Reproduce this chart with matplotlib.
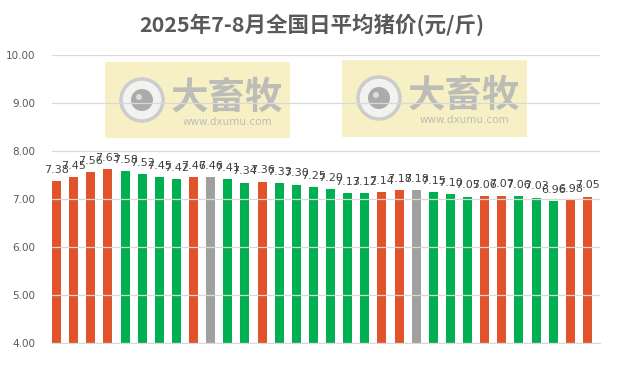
import numpy as np
import matplotlib
matplotlib.use("Agg")
import matplotlib.pyplot as plt
from matplotlib.patches import Circle, Rectangle

plt.rcParams['font.family'] = ['Noto Sans CJK SC', 'DejaVu Sans']

# 2025年7-8月 全国日平均猪价 (元/斤)
prices = [7.38, 7.45, 7.56, 7.63, 7.58, 7.52, 7.45, 7.42, 7.46, 7.46,
          7.41, 7.34, 7.36, 7.33, 7.30, 7.25, 7.20, 7.13, 7.12, 7.14,
          7.18, 7.18, 7.15, 7.10, 7.05, 7.06, 7.07, 7.06, 7.03, 6.96,
          6.98, 7.05]
# 涨=红, 跌=绿, 平=灰
trend = ["up", "up", "up", "up", "down", "down", "down", "down", "up", "flat",
         "down", "down", "up", "down", "down", "down", "down", "down", "down", "up",
         "up", "flat", "down", "down", "down", "up", "up", "down", "down", "down",
         "up", "up"]
title = "2025年7-8月全国日平均猪价(元/斤)"

COLORS = {"up": "#E0532B", "down": "#00B050", "flat": "#A0A0A0"}
W, H = 623, 369

fig = plt.figure(figsize=(W / 100, H / 100), dpi=100)


def px_axes(x0, y0, x1, y1, **kw):
    # 像素坐标(左上原点) -> figure 坐标
    return fig.add_axes([x0 / W, 1 - y1 / H, (x1 - x0) / W, (y1 - y0) / H], **kw)


# ── 水印 ──────────────────────────────────────────────
def watermark(x0, y0, x1, y1):
    wm = px_axes(x0, y0, x1, y1, zorder=-1)
    wm.set_xlim(x0, x1)
    wm.set_ylim(y1, y0)
    wm.set_aspect("auto")
    wm.axis("off")
    wm.add_patch(Rectangle((x0, y0), x1 - x0, y1 - y0, color="#F7F0C4", lw=0))
    cx, cy = x0 + 37, y0 + 38
    wm.add_patch(Circle((cx, cy), 21, facecolor="#F2F2F0", edgecolor="#CCCCCC", lw=2.5))
    wm.add_patch(Circle((cx, cy), 11, color="#ABABAB", lw=0))
    wm.add_patch(Circle((cx - 3, cy - 3), 3, color="#DDDDDD", lw=0))
    wm.text(x0 + 122, y0 + 35, "大畜牧", fontsize=27, fontweight="bold",
            color="#BDBDB8", ha="center", va="center")
    wm.text(x0 + 122, y0 + 60, "www.dxumu.com", fontsize=7.5,
            color="#BDBDB8", ha="center", va="center", family="DejaVu Sans")


watermark(105, 62, 290, 138)
watermark(342, 60, 527, 137)

# ── 主图 ──────────────────────────────────────────────
ax = px_axes(52, 55, 600, 343, zorder=1)
ax.patch.set_alpha(0)

x = np.arange(len(prices))
bw = 0.53
bar_colors = [COLORS[t] for t in trend]
ax.bar(x, np.array(prices) - 4.0, bottom=4.0, width=bw, align="edge",
       color=bar_colors, zorder=2)

for xi, v in zip(x, prices):
    ax.text(xi + bw / 2, v + 0.13, f"{v:.2f}", ha="center", va="bottom",
            fontsize=8, color="#404040", family="DejaVu Sans", zorder=3)

ax.set_xlim(0, len(prices))
ax.set_ylim(4, 10)
ax.set_yticks(np.arange(4, 10.01, 1))
ax.set_yticklabels([f"{v:.2f}" for v in np.arange(4, 10.01, 1)],
                   family="DejaVu Sans")
ax.set_xticks([])
ax.grid(axis="y", color="#D9D9D9", lw=0.9, zorder=1)
ax.set_axisbelow(False)
for s in ("top", "right", "left"):
    ax.spines[s].set_visible(False)
ax.spines["bottom"].set_color("#D9D9D9")
ax.tick_params(axis="y", length=0, labelsize=7.5, labelcolor="#595959", pad=12)

fig.text(0.5, 1 - 25 / H, title, ha="center", va="center", fontsize=15.5,
         fontweight="bold", color="#595959")

fig.savefig("out.png", dpi=100)
